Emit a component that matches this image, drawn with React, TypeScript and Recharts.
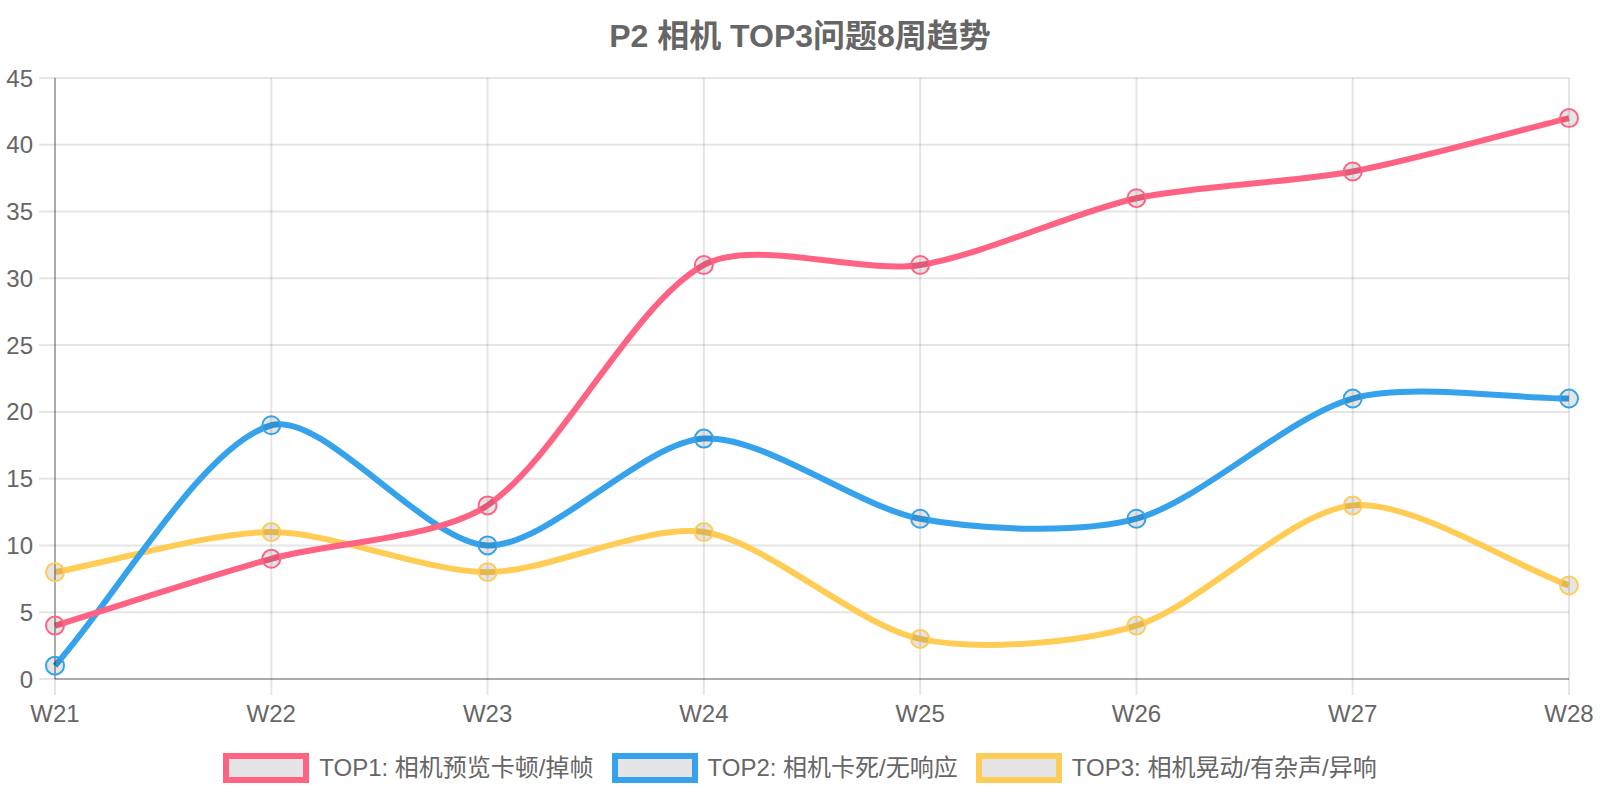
import React from 'react';
import { LineChart, Line, XAxis, YAxis, CartesianGrid } from 'recharts';

const weeks = ['W21', 'W22', 'W23', 'W24', 'W25', 'W26', 'W27', 'W28'];
const top1Values = [4, 9, 13, 31, 31, 36, 38, 42];
const top2Values = [1, 19, 10, 18, 12, 12, 21, 21];
const top3Values = [8, 11, 8, 11, 3, 4, 13, 7];
const yTicks = [0, 5, 10, 15, 20, 25, 30, 35, 40, 45];

const seriesInfo = [
  { key: 'top1', name: 'TOP1: 相机预览卡顿/掉帧', color: '#ff6384' },
  { key: 'top2', name: 'TOP2: 相机卡死/无响应', color: '#36a2eb' },
  { key: 'top3', name: 'TOP3: 相机晃动/有杂声/异响', color: '#ffcd56' },
];

const data = weeks.map((week, i) => ({
  week,
  top1: top1Values[i],
  top2: top2Values[i],
  top3: top3Values[i],
}));

const FONT = "'Helvetica Neue', Helvetica, Arial, 'Liberation Sans', 'Noto Sans CJK SC', sans-serif";
const TEXT_COLOR = '#666';
const GRID_COLOR = 'rgba(0,0,0,0.1)';
const AXIS_COLOR = 'rgba(0,0,0,0.25)';
const TENSION = 0.28;

// cardinal-ish spline like the old chart.js "lineTension" curve
const tensionCurve = (context: any) => {
  let pts: number[][] = [];
  return {
    areaStart() {},
    areaEnd() {},
    lineStart() {
      pts = [];
    },
    point(x: number, y: number) {
      pts.push([+x, +y]);
    },
    lineEnd() {
      if (!pts.length) return;
      const cps = pts.map((cur, i) => {
        const prev = pts[Math.max(i - 1, 0)];
        const next = pts[Math.min(i + 1, pts.length - 1)];
        const d01 = Math.hypot(cur[0] - prev[0], cur[1] - prev[1]);
        const d12 = Math.hypot(next[0] - cur[0], next[1] - cur[1]);
        const sum = d01 + d12;
        const fa = sum ? (TENSION * d01) / sum : 0;
        const fb = sum ? (TENSION * d12) / sum : 0;
        const dx = next[0] - prev[0];
        const dy = next[1] - prev[1];
        return {
          inX: cur[0] - fa * dx,
          inY: cur[1] - fa * dy,
          outX: cur[0] + fb * dx,
          outY: cur[1] + fb * dy,
        };
      });
      context.moveTo(pts[0][0], pts[0][1]);
      for (let i = 1; i < pts.length; i++) {
        context.bezierCurveTo(cps[i - 1].outX, cps[i - 1].outY, cps[i].inX, cps[i].inY, pts[i][0], pts[i][1]);
      }
    },
  };
};

const tickStyle = { fill: TEXT_COLOR, fontSize: 24, fontFamily: FONT };

export default function App() {
  // drawn bottom to top so TOP1 ends up above the others
  const drawOrder = [...seriesInfo].reverse();

  return (
    <div style={{ position: 'absolute', left: 0, top: 0, width: 1600, height: 800, background: '#fff', fontFamily: FONT }}>
      <div
        style={{
          position: 'absolute',
          top: 16,
          left: 0,
          width: 1600,
          lineHeight: '40px',
          textAlign: 'center',
          fontSize: 32,
          fontWeight: 'bold',
          color: TEXT_COLOR,
        }}
      >
        P2 相机 TOP3问题8周趋势
      </div>

      <LineChart width={1600} height={800} data={data} margin={{ top: 78, right: 31, bottom: 81, left: 0 }}>
        <CartesianGrid stroke={GRID_COLOR} strokeWidth={2} />
        <XAxis
          dataKey="week"
          height={40}
          interval={0}
          tickSize={16}
          tickMargin={10}
          tick={tickStyle}
          tickLine={{ stroke: GRID_COLOR, strokeWidth: 2 }}
          axisLine={{ stroke: AXIS_COLOR, strokeWidth: 2 }}
        />
        <YAxis
          domain={[0, 45]}
          ticks={yTicks}
          interval={0}
          width={55}
          tickSize={16}
          tickMargin={6}
          tick={tickStyle}
          tickLine={{ stroke: GRID_COLOR, strokeWidth: 2 }}
          axisLine={{ stroke: AXIS_COLOR, strokeWidth: 2 }}
        />
        {drawOrder.map((s) => (
          <Line
            key={s.key}
            dataKey={s.key}
            name={s.name}
            type={tensionCurve as any}
            stroke={s.color}
            strokeWidth={6}
            dot={{ r: 9, fill: GRID_COLOR, stroke: s.color, strokeWidth: 2 }}
            activeDot={false}
            isAnimationActive={false}
          />
        ))}
      </LineChart>

      <div
        style={{
          position: 'absolute',
          top: 753,
          left: 0,
          width: 1600,
          height: 30,
          display: 'flex',
          justifyContent: 'center',
          alignItems: 'center',
          gap: 18,
        }}
      >
        {seriesInfo.map((s) => (
          <div key={s.key} style={{ display: 'flex', alignItems: 'center' }}>
            <span
              style={{
                display: 'inline-block',
                width: 74,
                height: 18,
                border: `6px solid ${s.color}`,
                background: GRID_COLOR,
              }}
            />
            <span style={{ marginLeft: 10, fontSize: 24, color: TEXT_COLOR, lineHeight: '30px', whiteSpace: 'nowrap' }}>
              {s.name}
            </span>
          </div>
        ))}
      </div>
    </div>
  );
}
